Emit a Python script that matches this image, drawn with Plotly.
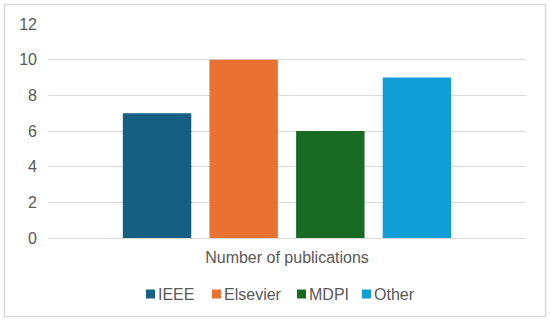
import plotly.graph_objects as go

categories = ["Number of publications"]
series_names = ["IEEE", "Elsevier", "MDPI", "Other"]
series_values = [[7], [10], [6], [9]]
colors = ["#156082", "#E97132", "#196B24", "#0F9ED5"]
y_ticks = [0, 2, 4, 6, 8, 10, 12]

fig = go.Figure()
for name, vals, col in zip(series_names, series_values, colors):
    fig.add_trace(go.Bar(x=categories, y=vals, name=name, showlegend=False,
                         marker=dict(color=col, line=dict(width=0))))

W, H = 550, 322
L, R, T, B = 48, 24, 24, 84
pw, ph = W - L - R, H - T - B

def px_x(p):
    return (p - L) / pw

def px_y(p):
    return (H - B - p) / ph

shapes = [dict(type="rect", xref="paper", yref="paper",
               x0=px_x(4.5), x1=px_x(545.5), y0=px_y(316.5), y1=px_y(4.5),
               line=dict(color="#D9D9D9", width=1.5), fillcolor="rgba(0,0,0,0)", layer="below")]
annotations = []
# manual legend (layout positions)
legend_square_x = [146, 212, 297, 362]
legend_y = 294
sq = 9
for name, col, sx in zip(series_names, colors, legend_square_x):
    shapes.append(dict(type="rect", xref="paper", yref="paper",
                       x0=px_x(sx), x1=px_x(sx + sq), y0=px_y(legend_y + sq / 2), y1=px_y(legend_y - sq / 2),
                       line=dict(width=0), fillcolor=col))
    annotations.append(dict(xref="paper", yref="paper", x=px_x(sx + sq + 1), y=px_y(legend_y),
                            xanchor="left", yanchor="middle", showarrow=False, text=name,
                            font=dict(size=16, color="#595959")))

fig.update_layout(
    width=W, height=H,
    margin=dict(l=L, r=R, t=T, b=B),
    paper_bgcolor="white", plot_bgcolor="white",
    barmode="group", bargap=0.275, bargroupgap=0.21,
    font=dict(family="Arial, Liberation Sans, sans-serif", size=16, color="#595959"),
    showlegend=False,
    xaxis=dict(showgrid=False, showline=False, ticks="", ticklabelstandoff=8, fixedrange=True),
    yaxis=dict(range=[0, 12], tickvals=y_ticks, showgrid=True, gridcolor="#D9D9D9", gridwidth=1,
               zeroline=True, zerolinecolor="#D9D9D9", zerolinewidth=1, showline=False,
               ticks="", ticklabelstandoff=10),
    shapes=shapes,
    annotations=annotations,
)

fig.write_html("out.html", config={"displayModeBar": False},
               post_script="document.body.style.margin='0';document.body.style.padding='0';")
